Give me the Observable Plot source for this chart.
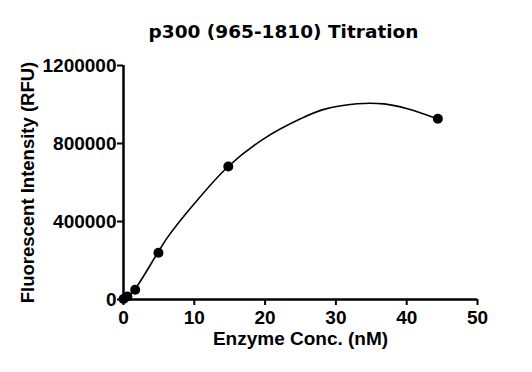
<!DOCTYPE html>
<html><head><meta charset="utf-8">
<script src="https://cdn.jsdelivr.net/npm/d3@7"></script>
<script src="https://cdn.jsdelivr.net/npm/@observablehq/plot@0.6"></script>
<style>body{margin:0;background:#fff}</style>
</head><body>
<script>
const title = "p300 (965-1810) Titration";
const xLabel = "Enzyme Conc. (nM)";
const yLabel = "Fluorescent Intensity (RFU)";
// measured points
const conc = [0, 0.55, 1.65, 4.94, 14.8, 44.4];
const rfu = [3000, 15000, 50000, 240000, 682000, 927000];
// fitted curve
const fitConc = [0, 0.55, 1.55, 4.84, 6.17, 9.93, 14.79, 19.8, 25.0, 28.3, 33.0, 36.8, 40.1, 44.3];
const fitRfu = [0, 15000, 50000, 240000, 316000, 488000, 682000, 824000, 926700, 975000, 1004000, 1003000, 978000, 926700];
const xTicks = [0, 10, 20, 30, 40, 50];
const yTicks = [0, 400000, 800000, 1200000];

const points = conc.map((x, i) => ({x, y: rfu[i]}));
const fit = fitConc.map((x, i) => ({x, y: fitRfu[i]}));

const tickFont = {fontFamily: "Liberation Sans", fontSize: 19, fontWeight: "bold"};

const chart = Plot.plot({
  width: 532, height: 372,
  marginLeft: 123, marginRight: 55, marginTop: 65, marginBottom: 73,
  style: {fontFamily: "Liberation Sans", fontSize: "19px", fontWeight: "bold", color: "#000", background: "#fff"},
  x: {domain: [0, 50]},
  y: {domain: [0, 1200000]},
  marks: [
    Plot.axisX({ticks: xTicks, tickSize: 6, strokeWidth: 2, label: null, tickFormat: () => ""}),
    Plot.axisY({ticks: yTicks, tickSize: 6, strokeWidth: 2, label: null, tickFormat: () => ""}),
    Plot.text(xTicks, {x: d => d, text: d => String(d), frameAnchor: "bottom", lineAnchor: "top", dy: 11, ...tickFont}),
    Plot.text(yTicks, {y: d => d, text: d => String(d), frameAnchor: "left", textAnchor: "end", dx: -7, ...tickFont}),
    Plot.ruleX([0], {strokeWidth: 2.5}),
    Plot.ruleY([0], {strokeWidth: 2.5}),
    Plot.line(fit, {x: "x", y: "y", strokeWidth: 1.6, curve: "catmull-rom"}),
    Plot.dot(points, {x: "x", y: "y", r: 5, fill: "#000"}),
    Plot.text([title], {text: d => d, frameAnchor: "top", dx: -17, dy: -41, fontSize: 18.5, fontFamily: "DejaVu Sans", fontWeight: "bold"}),
    Plot.text([xLabel], {text: d => d, frameAnchor: "bottom", dy: 45, fontSize: 19, fontFamily: "Liberation Sans", fontWeight: "bold"}),
    Plot.text([yLabel], {text: d => d, frameAnchor: "left", textAnchor: "middle", rotate: -90, dx: -95, fontSize: 18.5, fontFamily: "Liberation Sans", fontWeight: "bold"})
  ]
});
document.body.append(chart);
</script></body></html>
